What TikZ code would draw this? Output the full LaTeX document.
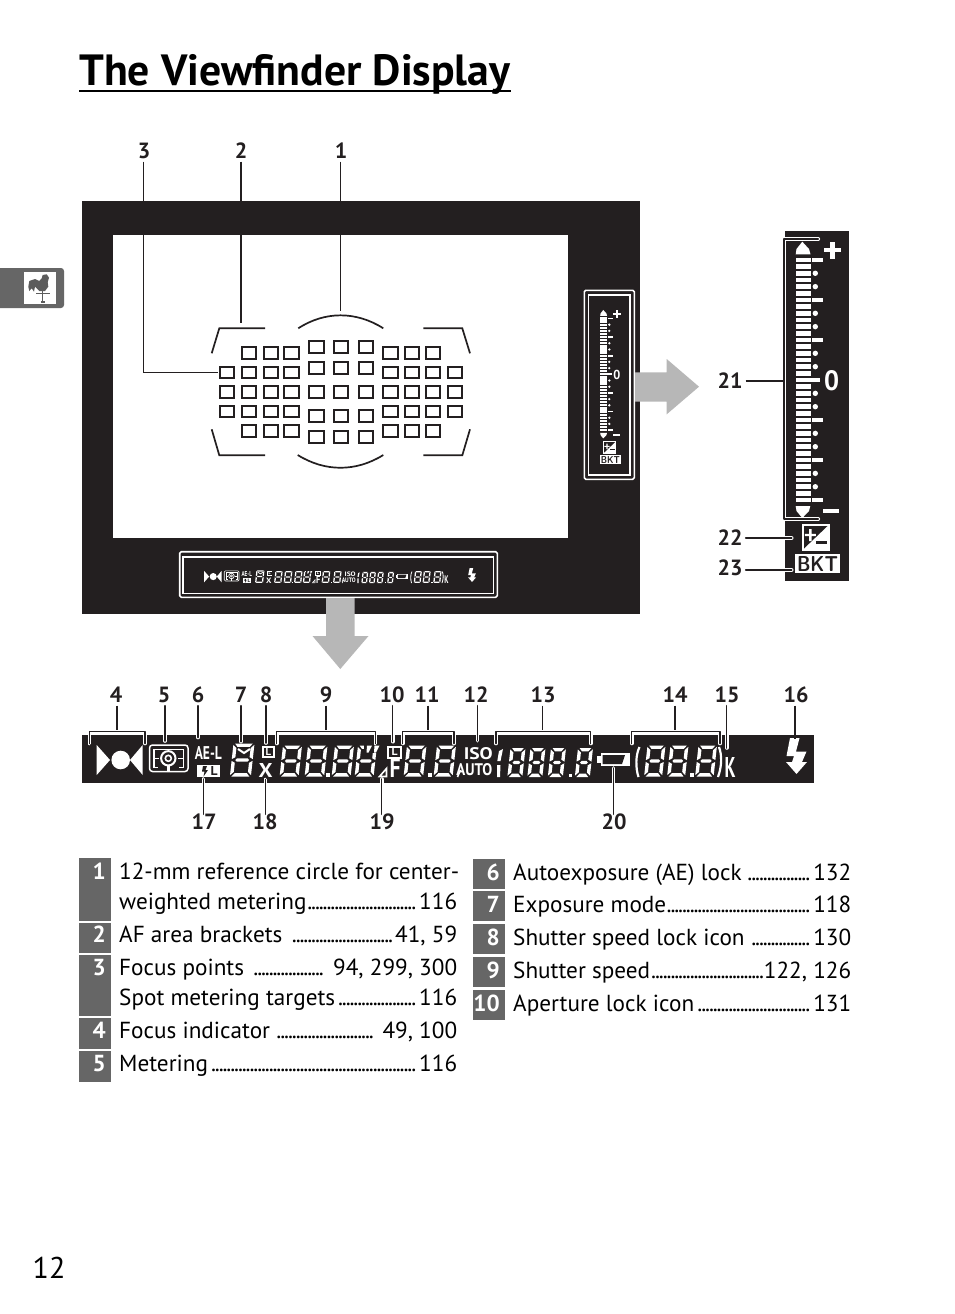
\documentclass[tikz,border=0pt]{standalone}
\usepackage{fontspec}
\setmainfont{PT Sans}
\usepackage{graphicx}
\definecolor{ink}{HTML}{231F20}
\definecolor{cellgray}{HTML}{666666}
\definecolor{arrowgray}{HTML}{B7B7B7}
\def\lwk{1}
\def\pfx{a}
\newcommand\fitbox[6]{\node[inner sep=0pt,transform shape,text=#1] (\pfx#2) at (#3) {\resizebox{#4pt}{#5pt}{\bfseries #6}};}
% seven segment digit: x, y(top), w, h
\newcommand\segd[4]{%
 \begin{scope}[shift={(#1,#2)},xslant=.11]
 \def\W{#3}\def\HH{#4}
 \fill[white]
  (1.6,0)--({\W-1.6},0)--({\W-4.4},3.4)--(4.4,3.4)--cycle
  (1.6,\HH)--({\W-1.6},\HH)--({\W-4.4},{\HH-3.4})--(4.4,{\HH-3.4})--cycle
  (3.6,{\HH/2})--(5.2,{\HH/2-1.7})--({\W-5.2},{\HH/2-1.7})--({\W-3.6},{\HH/2})--({\W-5.2},{\HH/2+1.7})--(5.2,{\HH/2+1.7})--cycle
  (0,1.4)--(3.4,4.6)--(3.4,{\HH/2-2.8})--(0,{\HH/2-.9})--cycle
  (0,{\HH/2+.9})--(3.4,{\HH/2+2.8})--(3.4,{\HH-4.6})--(0,{\HH-1.4})--cycle
  (\W,1.4)--({\W-3.4},4.6)--({\W-3.4},{\HH/2-2.8})--(\W,{\HH/2-.9})--cycle
  (\W,{\HH/2+.9})--({\W-3.4},{\HH/2+2.8})--({\W-3.4},{\HH-4.6})--(\W,{\HH-1.4})--cycle;
 \end{scope}}
\newcommand\lcdstrip{%
 \fill[white] (96.7,745)--(110,760)--(96.7,775)--cycle;
 \fill[white] (120.7,760) circle[radius=9.3];
 \fill[white] (142.7,745)--(130,760)--(142.7,775)--cycle;
 % metering icon
 \draw[white,lk=1.5,rounded corners=\lwk*3pt] (149.5,745)rectangle(188,771.5);
 \draw[white,lk=1.5] (154,749.5)rectangle(183.5,767.5);
 \fill[ink] (158,748)rectangle(179,769);
 \draw[white,lk=1.5] (158,749.5)--(179,749.5) (154,758.3)--(159,758.3) (178,758.3)--(183.5,758.3);
 \draw[white,lk=2] (168.3,758.3) circle[radius=7.2];
 \draw[white,lk=1.6] (168.3,758.3) circle[radius=3];
 \fill[white] (166.5,765)rectangle(170,772);
 \fitbox{white}{ae}{208.3,752.5}{27}{13}{AE-L}
 \fill[white] (197.3,765)rectangle(220,777);
 \fill[ink] (203,766)--(207,766)--(205.5,770)--(208,770)--(203.5,776.5)--(204.5,771.5)--(202,771.5)--cycle;
 \fitbox{ink}{fl}{214,771}{7}{9}{L}
 % exposure mode
 \segd{233.5}{743.5}{21}{33}{}
 \draw[white,lk=2] (238,749)--(244,753)--(250,749);
 % L / X
 \fill[white] (261.7,746)rectangle(275,757.5);
 \fill[ink] (263.5,748)rectangle(273.2,755.7);
 \fitbox{white}{la}{268.3,751.8}{5.5}{7}{L}
 \fitbox{white}{x}{265.7,770}{14}{14}{X}
 % shutter
 \segd{283}{745.5}{19}{31}{}
 \segd{308}{745.5}{19.5}{31}{}
 \fill[white] (326,773)rectangle(330,777);
 \segd{335}{745.5}{19}{31}{}
 \segd{358}{745.5}{19}{31}{}
 \fill[ink] (364,744)rectangle(380,752.5);
 \fill[white] (367,745.5)--(372,745.5)--(368.5,752.5)--(366.5,752.5)--cycle (374.5,745.5)--(379.5,745.5)--(376,752.5)--(374,752.5)--cycle;
 % aperture
 \fill[white] (387,745.5)rectangle(402,758.5);
 \fill[ink] (389,747.5)rectangle(400,756.5);
 \fitbox{white}{lb}{394.5,752}{6}{7.5}{L}
 \draw[white,lk=1.6] (379.5,776.5)--(386.5,768.5)--(386.5,776.5)--cycle;
 \fitbox{white}{f}{395,767.5}{11}{19}{F}
 \segd{407}{745.5}{19.5}{31}{}
 \fill[white] (427.5,773)rectangle(431.5,777);
 \segd{437}{745.5}{19}{31}{}
 \draw[white,lk=1.6] (457.5,777)--(460.5,770);
 % iso
 \fitbox{white}{iso}{478.3,753.5}{29}{12}{ISO}
 \fitbox{white}{auto}{474.3,769.3}{36}{12}{AUTO}
 \fill[white] (499,751)--(503,749)--(500.5,761)--(497.3,761)--cycle;
 \fill[white] (497,765)--(500.5,765)--(500,777)--(497,777)--cycle;
 \segd{510.5}{748}{15}{29}{}
 \segd{530.5}{748}{15}{29}{}
 \segd{551}{748}{15}{29}{}
 \fill[white] (568.5,773.5)rectangle(572,777);
 \segd{578}{748}{15}{29}{}
 % battery
 \fill[white] (597,756)rectangle(602,763);
 \fill[white] (601,753)rectangle(630,766);
 \fill[ink] (602.5,755)--(625,755)--(622,764)--(602.5,764)--cycle;
 % EV comp
 \draw[white,lk=2.2] (639.5,747)..controls(635.5,755)and(635.5,768)..(638.5,777);
 \segd{647.5}{745.5}{18}{31}{}
 \segd{670.5}{745.5}{18}{31}{}
 \fill[white] (690,773)rectangle(694,777);
 \segd{698.5}{745.5}{18.5}{31}{}
 \draw[white,lk=2.2] (719,747)..controls(722,755)and(722,766)..(718,777);
 \fitbox{white}{k}{730,767}{11}{20}{K}
 \fill[white] (790,738)--(799.5,738)--(796,751.5)--(806.5,751.5)--(802,762)--(807,762)--(796.5,774)--(786,762)--(792,762)--(794,756)--(786.5,756)--cycle;
}
\newcommand\meterpanel{%
 \foreach \i in {-18,...,18} \fill[white] (796,{380+\i*6.67-2.4}) rectangle (810.7,{380+\i*6.67+2.4});
 \fill[white] (808,378)rectangle(820,382);
 \fill[white] (802.3,241.7)--(809,249)--(810.5,254.3)--(795.7,254.3)--(796.5,249)--cycle;
 \fill[white] (802.3,518)--(809,511)--(810.3,506)--(795.7,506)--(796.5,511)--cycle;
 \foreach \i in {-18,-12,-6,6,12,18} \fill[white] (812.3,{380+\i*6.67-2}) rectangle (822.7,{380+\i*6.67+2});
 \foreach \i in {-16,-14,-10,-8,-4,-2,2,4,8,10,14,16} \fill[white] (815.3,{380+\i*6.67}) circle[radius=2.7];
 \fill[white] (824,248)rectangle(840.5,252.3);
 \fill[white] (830.2,241.8)rectangle(834.5,258.5);
 \fill[white] (823.3,509)rectangle(839.3,513);
 \fitbox{white}{zero}{831.7,380.7}{15}{20}{0}
 \fill[white] (802.3,524.3)rectangle(830,550.5);
 \fill[ink] (804,526)--(827.5,526)--(804,548.5)--cycle;
 \fill[white] (809,529)rectangle(811.5,541) (804.8,533.8)rectangle(815.8,536.2);
 \fill[ink] (816,540.5)rectangle(827,543.5);
 \fill[white] (795,554.3)rectangle(840,573.3);
 \fitbox{ink}{bkt}{817.5,563.8}{41}{15}{\sffamily BKT}
}
\newcommand\cased[1]{\draw[white,line width=3.6pt,line cap=round,line join=round] #1; \draw[ink,line width=1.5pt,line cap=round,line join=round] #1;}
\newcommand\dotsline[3]{\hbox to #1pt{#2\leaders\hbox to 3.85pt{\hss.\hss}\hfill #3}}
\begin{document}
\begin{tikzpicture}[x=1pt,y=-1pt,
 lk/.style={line width=\lwk*#1 pt},
 fp/.style={draw=ink,line width=2pt},
 thin line/.style={draw=ink,line width=1.4pt},
 brk/.style={draw=ink,line width=1.7pt,line join=miter},
 lab/.style={inner sep=0pt,text=ink,text height=15pt,text depth=0pt,font=\fontsize{22}{22}\selectfont\bfseries},
 entry/.style={inner sep=0pt,anchor=base west,text=black,font=\fontsize{23.2}{25}\selectfont},
 num/.style={inner sep=0pt,anchor=base east,text=white,font=\fontsize{23.2}{25}\selectfont\bfseries},
 cell/.style={fill=cellgray,draw=none}]
\useasboundingbox (0,0) rectangle (954,1314);
\fill[white] (0,0) rectangle (954,1314);
% title
\node[inner sep=0pt,anchor=base west,text=black,font=\fontsize{43.7}{44}\selectfont\bfseries] (title) at (79,85.5) {The Viewfinder Display};
\coordinate (ula) at (79,91); \coordinate (ulb) at (511,91);
\draw[black,line width=2.4pt] (ula)--(ulb);
% side tab
\fill[cellgray,rounded corners=3pt] (-5,268) rectangle (64,308);
\fill[white] (24,271.7) rectangle (56,303.7);
\fill[cellgray!90!black] (29.3,281)--(35,279)--(39.3,281)--(41.7,278.3)--(42.7,275)--(46.7,274.3)--(49,277.7)--(47.7,282.3)--(48.3,286.7)--(45,291)--(39.3,291)--(35,286.7)--(34,291.7)--(31.7,288.3)--(29.3,291)--(28.3,286.7)--cycle;
\draw[cellgray!90!black,line width=1pt] (42.7,291)--(42.7,302) (36,293.5)--(49.5,293.5);
\fill[cellgray!90!black] (40.5,300.5)rectangle(45,303);
% viewfinder
\fill[ink] (82,201) rectangle (640,614);
\fill[white] (113,235) rectangle (568,538);
% AF brackets
\draw[brk] (211.7,353.3)--(219.3,328.3)--(265,328.3);
\draw[brk] (211.7,429.3)--(219.3,455.3)--(265,455.3);
\draw[brk] (470,353.3)--(462.3,328.3)--(423.3,328.3);
\draw[brk] (470,429.3)--(462.3,455.3)--(423.3,455.3);
\draw[brk] (298.3,328.3)..controls(325,311)and(356,311)..(383.3,328.3);
\draw[brk] (297.7,455)..controls(325,472)and(356,472)..(383.3,455);
% focus points
\foreach \x in {249,271,291.3,390.3,411.7,433} \foreach \y in {353,372.3,391.7,411.3,431}
 \draw[fp] ({\x-7.2},{\y-5.8}) rectangle ({\x+7.2},{\y+5.8});
\foreach \x in {226.7,454.7} \foreach \y in {372.3,391.7,411.3}
 \draw[fp] ({\x-7.2},{\y-5.8}) rectangle ({\x+7.2},{\y+5.8});
\foreach \x in {316.3,340.7,365.7} \foreach \y in {346.7,368,391.7,415.7,437}
 \draw[fp] ({\x-7.2},{\y-5.8}) rectangle ({\x+7.2},{\y+5.8});
% small meter
\draw[white,line width=1.6pt,rounded corners=1.5pt] (584.3,290.3) rectangle (634.3,479.3);
\draw[white,line width=1.6pt] (588.5,295) rectangle (630,475);
\begin{scope}[shift={(230.2,197.6)},scale=.465]
 \def\lwk{.465}\def\pfx{m}\meterpanel
\end{scope}
% small strip
\draw[white,line width=1.6pt,rounded corners=1.5pt] (179.7,551.7) rectangle (497.3,597.3);
\draw[white,line width=1.6pt] (183,556.7) rectangle (493.3,593.3);
\begin{scope}[shift={(167,285.5)},scale=.383]
 \def\lwk{.383}\def\pfx{s}\lcdstrip
\end{scope}
% grey arrows
\fill[arrowgray] (635,372.3)--(666.7,372.3)--(666.7,359)--(699,386.7)--(666.7,414.3)--(666.7,401.7)--(635,401.7)--cycle;
\fill[arrowgray] (326,598)--(354.5,598)--(354.5,636)--(368.5,636)--(340.3,669)--(312.5,636)--(326,636)--cycle;
% big meter
\fill[ink] (785,231) rectangle (849,581);
\meterpanel
% big strip
\fill[ink] (82,735) rectangle (814,783);
\def\pfx{b}\lcdstrip
% labels
\node[lab] (l1) at (341,151) {1};
\node[lab] (l2) at (241,151) {2};
\node[lab] (l3) at (144,151) {3};
\foreach \n/\x in {4/116,5/164,6/198,7/241,8/266,9/326,10/392,11/427,12/476,13/543,14/675,15/727,16/796}
 \node[lab] (l\n) at (\x,695) {\n};
\foreach \n/\x in {17/204,18/265,19/382,20/614}
 \node[lab] (l\n) at (\x,822) {\n};
\node[lab] (l21) at (730,381) {21};
\node[lab] (l22) at (730,538) {22};
\node[lab] (l23) at (730,568) {23};
% leaders
\coordinate (e1) at (340.5,311); \coordinate (e2) at (241,323);
\coordinate (e3a) at (143.5,372.3); \coordinate (e3) at (218,372.3);
\draw[thin line] ([yshift=-3pt]l1.south -| e1)--(e1);
\draw[thin line] ([yshift=-3pt]l2.south -| e2)--(e2);
\draw[thin line] ([yshift=-3pt]l3.south -| e3a)--(e3a)--(e3);
\coordinate (b4) at (117,731.7);\coordinate (b9) at (326,731.7);\coordinate (b11) at (428,731.7);\coordinate (b13) at (542.7,731.7);\coordinate (b14) at (675,731.7);
\draw[thin line] ([yshift=-3pt]l4.south -| b4)--(b4);
\draw[thin line] ([yshift=-3pt]l9.south -| b9)--(b9);
\draw[thin line] ([yshift=-3pt]l11.south -| b11)--(b11);
\draw[thin line] ([yshift=-3pt]l13.south -| b13)--(b13);
\draw[thin line] ([yshift=-3pt]l14.south -| b14)--(b14);
\cased{(89.3,743.5)--(89.3,731.7)--(145,731.7)--(145,743.5)}
\cased{(276.7,743.5)--(276.7,731.7)--(375.3,731.7)--(375.3,743.5)}
\cased{(402.7,743.5)--(402.7,731.7)--(454,731.7)--(454,743.5)}
\cased{(496,743.5)--(496,731.7)--(590.7,731.7)--(590.7,743.5)}
\cased{(631.7,743.5)--(631.7,731.7)--(720,731.7)--(720,743.5)}
\coordinate (s5) at (165,741); \coordinate (s6) at (198,737.5); \coordinate (s7) at (241,741.7); \coordinate (s8) at (266,743); \coordinate (s10) at (392.7,741.7); \coordinate (s12) at (477.3,740.7); \coordinate (s15) at (726.7,748); \coordinate (s16) at (795,739);
\cased{([yshift=-3pt]l5.south -| s5)--(s5)}
\cased{([yshift=-3pt]l6.south -| s6)--(s6)}
\cased{([yshift=-3pt]l7.south -| s7)--(s7)}
\cased{([yshift=-3pt]l8.south -| s8)--(s8)}
\cased{([yshift=-3pt]l10.south -| s10)--(s10)}
\cased{([yshift=-3pt]l12.south -| s12)--(s12)}
\cased{([yshift=-3pt]l15.south -| s15)--(s15)}
\draw[thin line] ([yshift=-3pt]l16.south -| s16)--(s16);
\coordinate (s17) at (203.3,779); \coordinate (s18) at (265.3,779.5); \coordinate (s19) at (381.7,779); \coordinate (s20) at (613.3,768);
\cased{(s17)--(s17 |- l17.north)}
\cased{(s18)--(s18 |- l18.north)}
\cased{(s19)--(s19 |- l19.north)}
\cased{(s20)--(s20 |- l20.north)}
\cased{(818.3,239)--(784,239)--(784,519)--(818.3,519)}
\coordinate (s21) at (783,381); \coordinate (s22) at (791.7,538); \coordinate (s23) at (791.7,570);
\draw[thin line] ([xshift=3pt]l21.east |- s21)--(s21);
\cased{([xshift=3pt]l22.east |- s22)--(s22)}
\cased{([xshift=3pt]l23.east |- s23)--(s23)}
% table left
\fill[cell] (79,858) rectangle (111,921);
\fill[cell] (79,922.5) rectangle (111,952.7);
\fill[cell] (79,955) rectangle (111,1015.7);
\fill[cell] (79,1017.7) rectangle (111,1049);
\fill[cell] (79,1051) rectangle (111,1082.3);
\foreach \n/\y in {1/879.5,2/942.7,3/975,4/1038,5/1071.7} \node[num] (n\n) at (106,\y) {\n};
\node[entry] (t1a) at (119,879.5) {12-mm reference circle for center-};
\node[entry] (t1b) at (119,909.5) {\dotsline{338}{weighted metering}{116}};
\node[entry] (t2) at (119,942.7) {\dotsline{338}{AF area brackets }{41, 59}};
\node[entry] (t3a) at (119,975) {\dotsline{338}{Focus points }{ 94, 299, 300}};
\node[entry] (t3b) at (119,1005) {\dotsline{338}{Spot metering targets}{116}};
\node[entry] (t4) at (119,1038) {\dotsline{338}{Focus indicator }{ 49, 100}};
\node[entry] (t5) at (119,1071.7) {\dotsline{338}{Metering}{116}};
% table right
\fill[cell] (473,859) rectangle (505,889);
\fill[cell] (473,891) rectangle (505,921);
\fill[cell] (473,924) rectangle (505,954);
\fill[cell] (473,957) rectangle (505,987);
\fill[cell] (473,990) rectangle (505,1020);
\foreach \n/\y in {6/880,7/912.5,8/945,9/978,10/1011} \node[num] (n\n) at (500,\y) {\n};
\node[entry] (t6) at (513,880) {\dotsline{338}{Autoexposure (AE) lock }{132}};
\node[entry] (t7) at (513,912.5) {\dotsline{338}{Exposure mode}{118}};
\node[entry] (t8) at (513,945) {\dotsline{338}{Shutter speed lock icon }{130}};
\node[entry] (t9) at (513,978) {\dotsline{338}{Shutter speed}{122, 126}};
\node[entry] (t10) at (513,1011) {\dotsline{338}{Aperture lock icon}{131}};
% page number
\node[inner sep=0pt,anchor=base west,text=black,font=\fontsize{30}{30}\selectfont] (page) at (32.5,1278) {12};
\end{tikzpicture}
\end{document}
